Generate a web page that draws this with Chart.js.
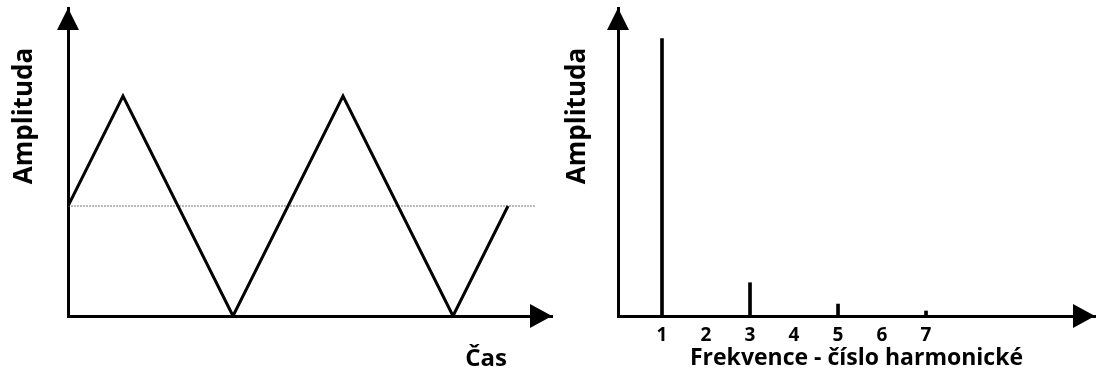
<!DOCTYPE html>
<html>
<head>
<meta charset="utf-8">
<script src="https://cdn.jsdelivr.net/npm/chart.js@4.4.0/dist/chart.umd.min.js"></script>
<style>
  body { margin: 0; background: #fff; }
  #page { position: relative; width: 1097px; height: 372px; overflow: hidden; font-family: "Open Sans", sans-serif; }
  .box { position: absolute; top: 0; height: 372px; }
  .lbl { position: absolute; font-weight: bold; color: #000; white-space: nowrap; text-align: center; }
  .rot { width: 200px; height: 30px; line-height: 30px; font-size: 26px; transform: rotate(-90deg); }
</style>
</head>
<body>
<div id="page">
  <div class="box" style="left:0;width:560px"><canvas id="timeChart"></canvas></div>
  <div class="box" style="left:560px;width:537px"><canvas id="specChart"></canvas></div>
  <div class="lbl rot" style="left:-78px;top:101px">Amplituda</div>
  <div class="lbl rot" style="left:475px;top:101px">Amplituda</div>
  <div class="lbl" style="left:446px;top:340px;width:80px;font-size:24px;line-height:34px">Čas</div>
</div>
<script>
// triangle wave (time domain), in quarter periods
let timeSteps = [0, 1, 3, 5, 7, 8];
let waveValues = [1, 2, 0, 2, 0, 1];
// thin reference line at the mean level
let refTimes = [0, 8.5];
let refValues = [1, 1];

// spectrum: odd harmonics only
let harmonics = [1, 3, 5, 7];
let harmonicAmps = [1, 0.12, 0.043, 0.018];
let tickLabels = [1, 2, 3, 4, 5, 6, 7];

function toPoints(xs, ys){
  return xs.map((x, i) => ({x: x, y: ys[i]}));
}

// arrowheads at the ends of both axes
let arrowPlugin = {
  id: "arrows",
  afterDraw(chart){
    let ctx = chart.ctx;
    let a = chart.chartArea;
    ctx.save();
    ctx.fillStyle = "#000";
    ctx.beginPath();
    ctx.moveTo(a.left, a.top);
    ctx.lineTo(a.left - 11, a.top + 22);
    ctx.lineTo(a.left + 11, a.top + 22);
    ctx.closePath();
    ctx.fill();
    ctx.beginPath();
    ctx.moveTo(a.right, a.bottom);
    ctx.lineTo(a.right - 22, a.bottom - 12);
    ctx.lineTo(a.right - 22, a.bottom + 12);
    ctx.closePath();
    ctx.fill();
    ctx.restore();
  }
};

function axisBorder(){
  return {display: true, color: "#000", width: 3};
}
let noGrid = {display: false, drawTicks: false};

new Chart(document.getElementById("timeChart"), {
  type: "line",
  data: {
    datasets: [{
      data: toPoints(timeSteps, waveValues),
      borderColor: "#000",
      borderWidth: 3,
      pointRadius: 0,
      tension: 0
    }, {
      data: toPoints(refTimes, refValues),
      borderColor: "#777",
      borderWidth: 1,
      borderDash: [2, 1],
      pointRadius: 0
    }]
  },
  options: {
    responsive: true,
    maintainAspectRatio: false,
    animation: false,
    layout: {padding: {left: 68, top: 8, right: 8, bottom: 56}},
    plugins: {legend: {display: false}, tooltip: {enabled: false}},
    scales: {
      x: {type: "linear", min: 0, max: 8.8, grid: noGrid, ticks: {display: false}, border: axisBorder()},
      y: {type: "linear", min: 0, max: 2.8, grid: noGrid, ticks: {display: false}, border: axisBorder()}
    }
  },
  plugins: [arrowPlugin]
});

new Chart(document.getElementById("specChart"), {
  type: "bar",
  data: {
    datasets: [{
      data: toPoints(harmonics, harmonicAmps),
      backgroundColor: "#000",
      barThickness: 3
    }]
  },
  options: {
    responsive: true,
    maintainAspectRatio: false,
    animation: false,
    layout: {padding: {left: 58, top: 8, right: 2, bottom: 0}},
    plugins: {legend: {display: false}, tooltip: {enabled: false}},
    scales: {
      x: {
        type: "linear", min: 0, max: 10.84, offset: false,
        grid: noGrid,
        border: axisBorder(),
        afterBuildTicks: (scale) => { scale.ticks = tickLabels.map(v => ({value: v})); },
        afterFit: (scale) => { scale.height = 56; },
        ticks: {color: "#000", padding: 8, font: {family: "Open Sans", weight: "bold", size: 19}},
        title: {display: true, text: "Frekvence - číslo harmonické", color: "#000",
                padding: {top: 0, bottom: 0}, font: {family: "Open Sans", weight: "bold", size: 23}}
      },
      y: {type: "linear", min: 0, max: 1.11, grid: noGrid, ticks: {display: false}, border: axisBorder()}
    }
  },
  plugins: [arrowPlugin]
});
</script>
</body>
</html>
